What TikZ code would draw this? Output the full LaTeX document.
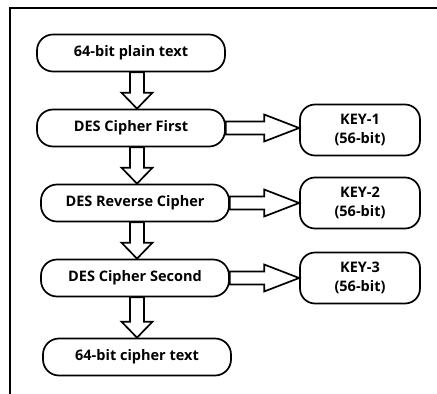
\documentclass[tikz,border=0pt]{standalone}
\usepackage{fontspec}
\setsansfont{Open Sans}
\usepackage{tikz}
\usetikzlibrary{positioning,calc}

\begin{document}
\begin{tikzpicture}[-,auto,node distance=75pt,line width=1.7pt,
  step node/.style={draw,rounded corners=16pt,minimum width=188pt,minimum height=37pt,
    font=\sffamily\bfseries\fontsize{14.5}{17}\selectfont},
  key node/.style={draw,rounded corners=15pt,minimum width=120pt,minimum height=51pt,
    align=center,font=\sffamily\bfseries\fontsize{14.5}{19}\selectfont},
  fat down/.style={to path={let \p1=(\tikztostart), \p2=(\tikztotarget) in
    (\x1-7pt,\y1) -- (\x1-7pt,\y2+16pt) -- (\x1-15.5pt,\y2+16pt) -- (\x1,\y2)
    -- (\x1+15.5pt,\y2+16pt) -- (\x1+7pt,\y2+16pt) -- (\x1+7pt,\y1) -- cycle}},
  fat right/.style={to path={let \p1=(\tikztostart), \p2=(\tikztotarget) in
    (\x1,\y1+6.5pt) -- (\x2-35pt,\y1+6.5pt) -- (\x2-35pt,\y1+13.5pt) -- (\x2,\y1)
    -- (\x2-35pt,\y1-13.5pt) -- (\x2-35pt,\y1-6.5pt) -- (\x1,\y1-6.5pt) -- cycle}}]
  \useasboundingbox (0,0) rectangle (437pt,-394pt);
  \draw (10pt,-394pt) -- (10pt,-8pt) -- (437pt,-8pt);

  \node[step node] (plain) at (131pt,-53pt) {64-bit plain text};
  \node[step node] (first) [below of=plain] {DES Cipher First};
  \node[step node] (reverse) [below of=first, xshift=4pt] {DES Reverse Cipher};
  \node[step node] (second) [below of=reverse] {DES Cipher Second};
  \node[step node] (cipher) [below of=second, xshift=2pt, yshift=-4pt] {64-bit cipher text};
  \node[key node] (key1) [right of=first, xshift=154pt, yshift=-2pt] {KEY-1\\(56-bit)};
  \node[key node] (key2) [right of=reverse, xshift=150pt] {KEY-2\\(56-bit)};
  \node[key node] (key3) [right of=second, xshift=150pt] {KEY-3\\(56-bit)};

  \path[draw,fill=white]
    ([xshift=6pt]plain.south) edge[fat down] (first.north)
    ([xshift=6pt]first.south) edge[fat down] (reverse.north)
    ([xshift=2pt]reverse.south) edge[fat down] (second.north)
    ([xshift=2pt]second.south) edge[fat down] (cipher.north)
    (first.east) edge[fat right] (key1.west)
    (reverse.east) edge[fat right] (key2.west)
    (second.east) edge[fat right] (key3.west);
\end{tikzpicture}
\end{document}
